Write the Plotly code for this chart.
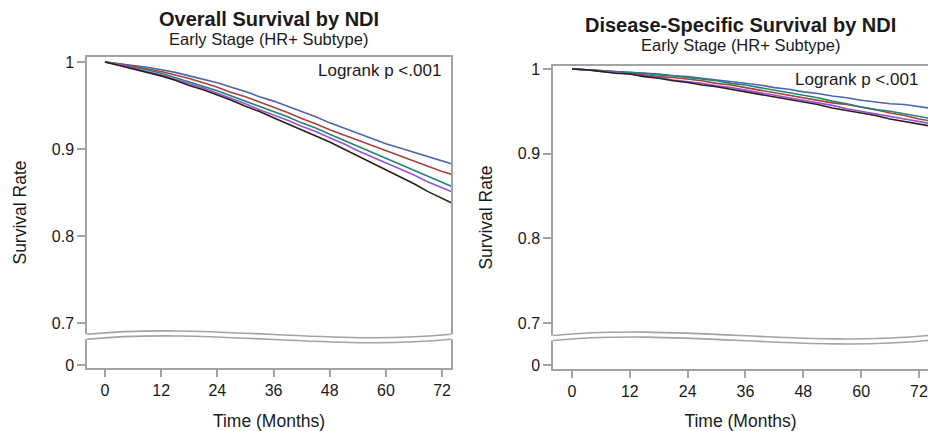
import plotly.graph_objects as go

# ---------------- data ----------------
months = [0, 3, 6, 9, 12, 15, 18, 21, 24, 27, 30, 33, 36, 39, 42, 45, 48, 51, 54, 57, 60, 63, 66, 69, 72, 74]
x_ticks = [0, 12, 24, 36, 48, 60, 72]
y_ticks = [0.7, 0.8, 0.9, 1.0]
y_tick_text = ["0.7", "0.8", "0.9", "1"]
series_names = ["NDI Q1", "NDI Q2", "NDI Q3", "NDI Q4", "NDI Q5"]

# Overall survival (left panel)
os_q1 = [1.000, 0.998, 0.996, 0.994, 0.991, 0.988, 0.984, 0.980, 0.976, 0.971, 0.966, 0.960, 0.955,
         0.949, 0.943, 0.937, 0.930, 0.924, 0.918, 0.912, 0.906, 0.901, 0.896, 0.891, 0.886, 0.883]
os_q2 = [1.000, 0.998, 0.995, 0.992, 0.989, 0.985, 0.981, 0.976, 0.971, 0.965, 0.960, 0.954, 0.948,
         0.942, 0.935, 0.929, 0.922, 0.916, 0.910, 0.904, 0.898, 0.892, 0.886, 0.880, 0.874, 0.871]
os_q3 = [1.000, 0.997, 0.994, 0.991, 0.987, 0.982, 0.977, 0.972, 0.967, 0.961, 0.955, 0.949, 0.943,
         0.937, 0.930, 0.924, 0.917, 0.910, 0.903, 0.896, 0.889, 0.882, 0.875, 0.868, 0.861, 0.857]
os_q4 = [1.000, 0.997, 0.993, 0.989, 0.985, 0.980, 0.975, 0.970, 0.964, 0.958, 0.952, 0.945, 0.939,
         0.933, 0.926, 0.920, 0.913, 0.906, 0.898, 0.891, 0.884, 0.877, 0.870, 0.862, 0.855, 0.851]
os_q5 = [1.000, 0.996, 0.992, 0.988, 0.984, 0.979, 0.973, 0.968, 0.962, 0.956, 0.949, 0.943, 0.936,
         0.929, 0.922, 0.915, 0.908, 0.900, 0.892, 0.884, 0.876, 0.868, 0.860, 0.851, 0.843, 0.838]

# Disease-specific survival (right panel)
dss_q1 = [1.000, 0.999, 0.998, 0.997, 0.996, 0.995, 0.994, 0.992, 0.991, 0.989, 0.987, 0.985, 0.983,
          0.981, 0.978, 0.976, 0.973, 0.971, 0.968, 0.966, 0.963, 0.961, 0.959, 0.958, 0.956, 0.954]
dss_q2 = [1.000, 0.999, 0.998, 0.996, 0.995, 0.993, 0.991, 0.990, 0.988, 0.986, 0.983, 0.981, 0.978,
          0.975, 0.972, 0.969, 0.966, 0.963, 0.960, 0.958, 0.955, 0.952, 0.948, 0.945, 0.941, 0.939]
dss_q3 = [1.000, 0.999, 0.998, 0.997, 0.996, 0.995, 0.993, 0.992, 0.990, 0.988, 0.986, 0.983, 0.981,
          0.978, 0.975, 0.972, 0.969, 0.966, 0.962, 0.959, 0.955, 0.952, 0.950, 0.947, 0.944, 0.942]
dss_q4 = [1.000, 0.999, 0.997, 0.996, 0.994, 0.992, 0.990, 0.987, 0.985, 0.983, 0.980, 0.978, 0.975,
          0.972, 0.969, 0.966, 0.963, 0.960, 0.957, 0.953, 0.950, 0.947, 0.944, 0.941, 0.938, 0.936]
dss_q5 = [1.000, 0.999, 0.997, 0.995, 0.994, 0.991, 0.989, 0.986, 0.984, 0.981, 0.979, 0.976, 0.973,
          0.970, 0.967, 0.964, 0.961, 0.958, 0.954, 0.951, 0.948, 0.945, 0.941, 0.938, 0.935, 0.933]

colors = ["#4a66b0", "#a8413a", "#1f8474", "#9b4fe0", "#2a2015"]

# ---------------- layout geometry ----------------
W, H = 928, 431
ML, MR, MT, MB = 87, 0, 57, 62
PW, PH = W - ML - MR, H - MT - MB
BOT = H - MB  # pixel y of plot-area bottom


def px_x(p):
    return (p - ML) / PW


def px_y(p):
    return (BOT - p) / PH


left_dom_x = [px_x(87), px_x(451)]
left_dom_y = [px_y(368), px_y(57)]
right_dom_x = [px_x(553), 1.0]
right_dom_y = [0.0, px_y(66)]

fig = go.Figure()

for name, ys, c in zip(series_names, [os_q1, os_q2, os_q3, os_q4, os_q5], colors):
    fig.add_trace(go.Scatter(x=months, y=ys, mode="lines", name=name,
                             line=dict(color=c, width=1.6), xaxis="x", yaxis="y",
                             showlegend=False))
for name, ys, c in zip(series_names, [dss_q1, dss_q2, dss_q3, dss_q4, dss_q5], colors):
    fig.add_trace(go.Scatter(x=months, y=ys, mode="lines", name=name,
                             line=dict(color=c, width=1.6), xaxis="x2", yaxis="y2",
                             showlegend=False))

AX = "#a3a3a3"
TXT = "#1a1a1a"
FONT = "Liberation Sans, Arial, sans-serif"

common_x = dict(tickvals=x_ticks, ticks="outside", ticklen=7, tickwidth=1.5, tickcolor=AX,
                showline=True, linecolor=AX, linewidth=1.5, showgrid=False, zeroline=False,
                tickfont=dict(size=16, color=TXT, family=FONT),
                title=dict(text="Time (Months)", font=dict(size=17.5, color=TXT, family=FONT), standoff=18))
common_y = dict(ticks="outside", ticklen=8, tickwidth=1.5, tickcolor=AX,
                showline=True, linecolor=AX, linewidth=1.5, showgrid=False, zeroline=False,
                tickfont=dict(size=16, color=TXT, family=FONT),
                title=dict(text="Survival Rate", font=dict(size=17.5, color=TXT, family=FONT), standoff=21))

# broken axis: "0" shown just below the break
l_range = [0.6483, 1.0057]
r_range = [0.6458, 1.0035]
l_zero = 0.6517
r_zero = 0.6505

fig.update_layout(
    width=W, height=H,
    margin=dict(l=ML, r=MR, t=MT, b=MB, autoexpand=False),
    paper_bgcolor="white", plot_bgcolor="white",
    font=dict(family=FONT, color=TXT),
    xaxis=dict(domain=left_dom_x, range=[-3.84, 73.9], anchor="y", mirror=True, **common_x),
    yaxis=dict(domain=left_dom_y, range=l_range, anchor="x", mirror=True,
               tickvals=y_ticks + [l_zero], ticktext=y_tick_text + ["0"], **common_y),
    xaxis2=dict(domain=right_dom_x, range=[-3.94, 73.87], anchor="y2", mirror=True, **common_x),
    yaxis2=dict(domain=right_dom_y, range=r_range, anchor="x2", mirror=False,
                tickvals=y_ticks + [r_zero], ticktext=y_tick_text + ["0"], **common_y),
)


# ---------------- axis-break waves ----------------
def wave(x0, x1, y0px, h):
    xa, xb = x0 + (x1 - x0) / 3, x0 + 2 * (x1 - x0) / 3
    return (x0, px_y(y0px)), (xa, px_y(y0px - h)), (xb, px_y(y0px + h)), (x1, px_y(y0px))


def add_break(dom, upper_px, gap_px, h=12.0, ext=0.006):
    x0, x1 = dom
    u = wave(x0, x1, upper_px, h)
    lo = wave(x0, x1, upper_px + gap_px, h)
    band = (f"M{x0-ext},{u[0][1]} L{u[0][0]},{u[0][1]} "
            f"C{u[1][0]},{u[1][1]} {u[2][0]},{u[2][1]} {u[3][0]},{u[3][1]} "
            f"L{x1+ext},{u[3][1]} L{x1+ext},{lo[3][1]} L{lo[3][0]},{lo[3][1]} "
            f"C{lo[2][0]},{lo[2][1]} {lo[1][0]},{lo[1][1]} {lo[0][0]},{lo[0][1]} "
            f"L{x0-ext},{lo[0][1]} Z")
    fig.add_shape(type="path", path=band, xref="paper", yref="paper",
                  fillcolor="white", line=dict(width=0), layer="above")
    for w in (u, lo):
        p = (f"M{w[0][0]},{w[0][1]} C{w[1][0]},{w[1][1]} {w[2][0]},{w[2][1]} {w[3][0]},{w[3][1]}")
        fig.add_shape(type="path", path=p, xref="paper", yref="paper",
                      line=dict(color=AX, width=1.6), layer="above")


add_break(left_dom_x, 334.3, 5.0)
add_break(right_dom_x, 335.5, 5.0)

# ---------------- titles and annotations ----------------
ann = [
    dict(text="<b>Overall Survival by NDI</b>", x=px_x(268.5), y=px_y(18.5), size=20),
    dict(text="Early Stage (HR+ Subtype)", x=px_x(268.5), y=px_y(39), size=16.5),
    dict(text="<b>Disease-Specific Survival by NDI</b>", x=px_x(740), y=px_y(25), size=20),
    dict(text="Early Stage (HR+ Subtype)", x=px_x(740), y=px_y(45), size=16.5),
]
for a in ann:
    fig.add_annotation(text=a["text"], x=a["x"], y=a["y"], xref="paper", yref="paper",
                       xanchor="center", yanchor="middle", showarrow=False,
                       font=dict(size=a["size"], color=TXT, family=FONT))

fig.add_annotation(text="Logrank p <.001", x=px_x(443), y=px_y(71), xref="paper", yref="paper",
                   xanchor="right", yanchor="middle", showarrow=False,
                   font=dict(size=17, color=TXT, family=FONT))
fig.add_annotation(text="Logrank p <.001", x=px_x(920), y=px_y(79), xref="paper", yref="paper",
                   xanchor="right", yanchor="middle", showarrow=False,
                   font=dict(size=17, color=TXT, family=FONT))

fig.write_html("out.html", config={"displayModeBar": False},
               post_script="document.body.style.margin='0px';")
